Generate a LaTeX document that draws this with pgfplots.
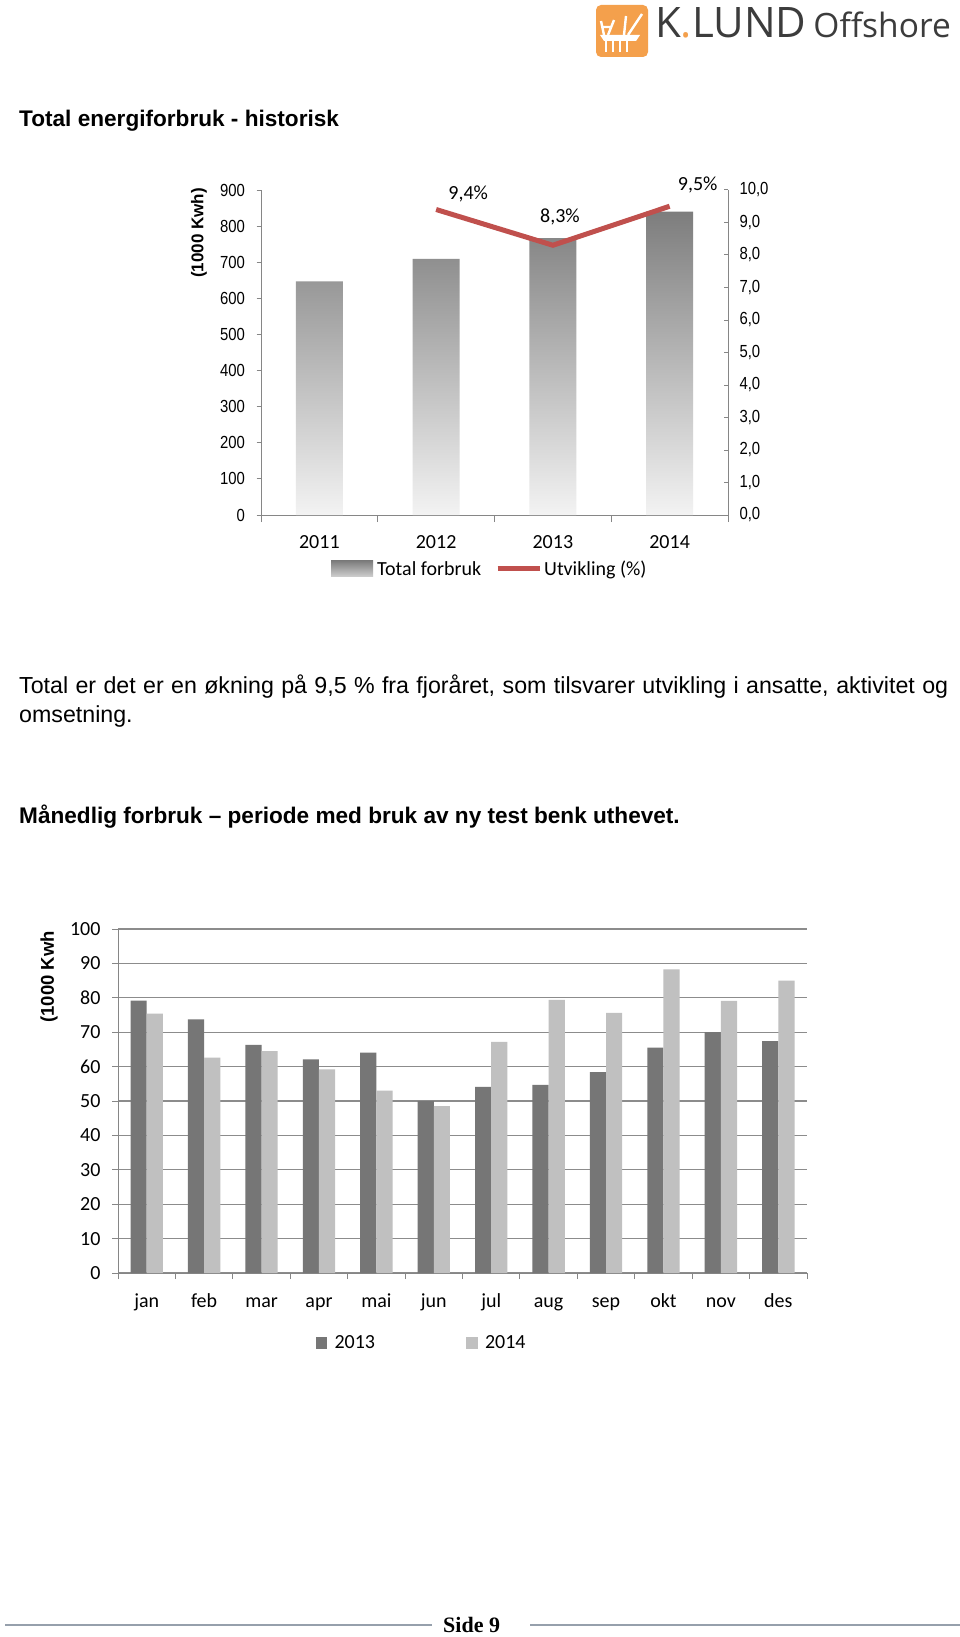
\documentclass[border=0pt]{standalone}
\usepackage{fontspec}
\setmainfont{Liberation Sans}
\newfontfamily\calibri{Carlito}
\newfontfamily\narrow[FakeStretch=0.85]{Liberation Sans}
\newfontfamily\opensans{Open Sans}
\newfontfamily\serifb{Liberation Serif}
\usepackage{pgfplots}
\usepackage{pgfplotstable}
\pgfplotsset{compat=1.18}

\definecolor{axgray}{RGB}{134,134,134}
\definecolor{gridgray}{RGB}{140,140,140}
\definecolor{darkbar}{RGB}{118,118,118}
\definecolor{lightbar}{RGB}{192,192,192}
\definecolor{barTop}{RGB}{125,125,125}
\definecolor{barBot}{RGB}{243,243,243}
\definecolor{lineRed}{RGB}{192,80,77}
\definecolor{klorange}{RGB}{244,160,76}
\definecolor{kltext}{RGB}{60,60,60}
\definecolor{footline}{RGB}{150,160,172}

\pgfplotsset{
  gradlegend/.style={legend image code/.code={%
    \path[top color=barTop, bottom color=barBot!70!barTop] (0pt,-8pt) rectangle (42pt,8pt);
    \path (44pt,0pt);}},
  linelegend/.style={legend image code/.code={%
    \draw[##1] (0pt,0pt) -- (42pt,0pt);}},
  boxlegend/.style={legend image code/.code={%
    \fill[##1] (0pt,-5.75pt) rectangle (11.5pt,5.75pt);
    \path (17pt,0pt);}},
}

% yearly totals (1000 kWh)
\pgfplotstableread{
x total
0 647
1 709
2 767
3 840
}\yeartab

% yearly growth in percent
\pgfplotstableread{
x y
1 9.4
2 8.3
3 9.5
}\growthtab

% monthly use 2013 / 2014
\pgfplotstableread{
x m2013 m2014
0  79.2 75.4
1  73.7 62.6
2  66.3 64.5
3  62.1 59.2
4  64.1 53.0
5  50.0 48.5
6  54.1 67.2
7  54.7 79.4
8  58.4 75.6
9  65.5 88.3
10 70.0 79.1
11 67.4 85.0
}\monthtab

\begin{document}
\begin{tikzpicture}[x=1pt,y=1pt]
\path[use as bounding box, fill=white] (0,0) rectangle (960,-1637);

% logo
\fill[klorange, rounded corners=5pt] (596,-5) rectangle (648,-57);
\begin{scope}[white, line width=2.4pt]
  \fill (600,-35) -- (640,-35) -- (636,-41) -- (604,-41) -- cycle;
  \draw (606,-41) -- (606,-52) (613,-41) -- (613,-52) (620,-41) -- (620,-52) (627,-41) -- (627,-52);
  \draw (604,-35) -- (601,-21) (608,-35) -- (614,-20) (602,-27) -- (612,-27);
  \draw (624,-35) -- (626,-16) (628,-35) -- (642,-14);
\end{scope}
\node[anchor=base west, inner sep=0] at (655,-38)
  {\opensans\fontsize{42}{42}\selectfont\color{kltext}K\textcolor{klorange}{.}LUND\hspace{7pt}\fontsize{33.5}{33.5}\selectfont Offshore};

% title
\node[anchor=base west, inner sep=0] at (19,-127)
  {\bfseries\fontsize{22.6}{27}\selectfont Total energiforbruk - historisk};

% chart 1: yearly total with growth
\begin{axis}[
  at={(261pt,-515pt)}, anchor=south west,
  scale only axis, width=467pt, height=325pt,
  xmin=-0.5, xmax=3.5, ymin=0, ymax=900,
  axis x line*=bottom, axis y line*=left,
  axis line style={axgray, line width=1pt},
  tick align=outside,
  tick style={axgray, line width=1pt},
  major tick length=4.5pt, minor tick length=7pt,
  xtick={0,1,2,3}, xticklabels={2011,2012,2013,2014},
  minor xtick={-0.5,0.5,1.5,2.5,3.5},
  major x tick style={draw=none},
  ytick={0,100,...,900},
  xticklabel style={font=\calibri\fontsize{20}{20}\selectfont, text=black, anchor=base, yshift=-29pt},
  yticklabel style={font=\narrow\fontsize{17.5}{17.5}\selectfont, text=black, xshift=-8pt},
  /pgf/number format/assume math mode=true,
  legend style={at={(0.49,-0.166)}, anchor=center, draw=none, fill=none,
    legend columns=2, font=\calibri\fontsize{20}{20}\selectfont,
    /tikz/every even column/.append style={column sep=12pt},
    inner sep=0pt},
]
\addplot[ybar, bar width=47pt, draw=none, top color=barTop, bottom color=barBot, gradlegend]
  table[x=x, y=total]{\yeartab};
\addlegendentry{Total forbruk}
\addlegendimage{lineRed, line width=5pt, linelegend}
\addlegendentry{Utvikling (\%)}
\end{axis}

\begin{axis}[
  at={(261pt,-515pt)}, anchor=south west,
  scale only axis, width=467pt, height=325pt,
  xmin=-0.5, xmax=3.5, ymin=0, ymax=10,
  axis x line=none, axis y line*=right,
  axis line style={axgray, line width=1pt},
  tick align=inside, tick style={axgray, line width=1pt}, major tick length=4.5pt,
  ytick={0,1,...,10},
  yticklabel style={font=\narrow\fontsize{17.5}{17.5}\selectfont, text=black, xshift=8pt,
    /pgf/number format/.cd, fixed, fixed zerofill, precision=1, use comma},
  /pgf/number format/assume math mode=true,
  clip=false,
]
\addplot[lineRed, line width=5pt] table[x=x, y=y]{\growthtab};
\begin{scope}[font=\calibri\fontsize{20}{20}\selectfont]
\node at (axis cs:1.275,9.89) {9,4\%};
\node at (axis cs:2.06,9.16) {8,3\%};
\node at (axis cs:3.24,10.14) {9,5\%};
\end{scope}
\end{axis}

\node[rotate=90, inner sep=0] at (199,-233)
  {\bfseries\fontsize{17}{17}\selectfont (1000 Kwh)};

% text
\node[anchor=base west, inner sep=0] at (19,-693)
  {\fontsize{23.2}{27}\selectfont\makebox[929pt][s]{Total er det er en økning på 9,5 \% fra fjoråret, som tilsvarer utvikling i ansatte, aktivitet og}};
\node[anchor=base west, inner sep=0] at (19,-722)
  {\fontsize{23.2}{27}\selectfont omsetning.};
\node[anchor=base west, inner sep=0] at (19,-823)
  {\bfseries\fontsize{22.6}{27}\selectfont Månedlig forbruk – periode med bruk av ny test benk uthevet.};

% chart 2: monthly use
\begin{axis}[
  at={(118pt,-1273pt)}, anchor=south west,
  scale only axis, width=689pt, height=344pt,
  xmin=-0.5, xmax=11.5, ymin=0, ymax=100,
  axis x line*=bottom, axis y line*=left,
  axis line style={axgray, line width=1pt},
  ymajorgrids, grid style={gridgray, line width=1.3pt},
  tick align=outside, tick style={axgray, line width=1pt},
  major tick length=6pt, minor tick length=6pt,
  xtick={0,...,11},
  xticklabels={jan,feb,mar,apr,mai,jun,jul,aug,sep,okt,nov,des},
  minor xtick={-0.5,0.5,...,11.5},
  major x tick style={draw=none},
  ytick={0,10,...,100},
  xticklabel style={font=\calibri\fontsize{20}{20}\selectfont, text=black, anchor=base, yshift=-28pt},
  yticklabel style={font=\calibri\fontsize{20}{20}\selectfont, text=black, xshift=-8pt},
  /pgf/number format/assume math mode=true,
  ybar=0pt, bar width=16.2pt,
  legend style={at={(0.4406,-0.204)}, anchor=center, draw=none, fill=none,
    legend columns=2, font=\calibri\fontsize{20}{20}\selectfont,
    /tikz/every even column/.append style={column sep=89pt},
    inner sep=0pt},
  boxlegend,
]
\addplot[fill=darkbar, draw=none] table[x=x, y=m2013]{\monthtab};
\addlegendentry{2013}
\addplot[fill=lightbar, draw=none] table[x=x, y=m2014]{\monthtab};
\addlegendentry{2014}
\end{axis}

\node[rotate=90, anchor=east, inner sep=0] at (49,-931)
  {\bfseries\fontsize{18.5}{18.5}\selectfont (1000 Kwh};

% footer
\draw[footline, line width=2pt] (5,-1625) -- (432,-1625);
\draw[footline, line width=2pt] (530,-1625) -- (960,-1625);
\node[anchor=base west, inner sep=0] at (443,-1632)
  {\serifb\bfseries\fontsize{22}{22}\selectfont Side 9};
\end{tikzpicture}
\end{document}
